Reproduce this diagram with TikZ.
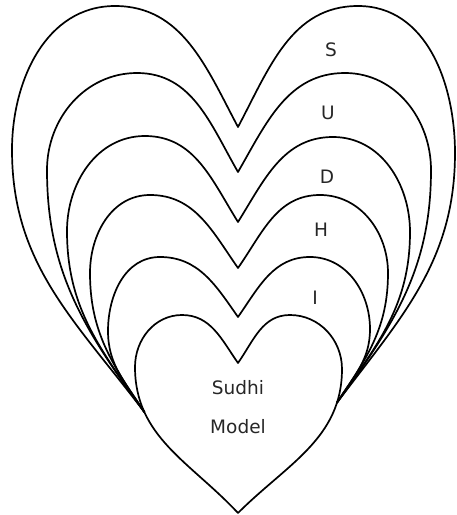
\documentclass[tikz,border=0pt]{standalone}
\usepackage{fontspec}
\setmainfont{DejaVu Sans}
\begin{document}
\begin{tikzpicture}[x=1pt,y=1pt,
  heart/.style={draw=black, line width=1.7pt, line join=round, line cap=round},
  lbl/.style={font=\fontsize{18.5}{20}\selectfont, text=black!85, inner sep=0pt}]
\useasboundingbox (0,0) rectangle (457,515);
% innermost heart (Sudhi Model)
\draw[heart] (238,2) coordinate (tip)
  to[out=133,in=-90] coordinate[pos=0.75] (ML) (135,148)
  to[out=90,in=180] (182,200)
  to[out=0,in=125] (238,152)
  to[out=55,in=180] (290,200)
  to[out=0,in=90] (342,146)
  to[out=-90,in=45] coordinate[pos=0.18] (MR) (tip);
% I
\draw[heart] (ML) to[out=122,in=-90] (108,184) to[out=90,in=180] (160,258)
  to[out=0,in=125] (238,198) to[out=55,in=180] (310,258)
  to[out=0,in=90] (370,186) to[out=-90,in=58] (MR);
% H
\draw[heart] (ML) to[out=124,in=-90] (90,242) to[out=90,in=180] (150,320)
  to[out=0,in=125] (238,247) to[out=55,in=180] (320,320)
  to[out=0,in=90] (388,242) to[out=-90,in=56] (MR);
% D
\draw[heart] (ML) to[out=125,in=-90] (67,284) to[out=90,in=180] (145,379)
  to[out=0,in=122] (238,293) to[out=58,in=180] (333,378)
  to[out=0,in=90] (410,283) to[out=-90,in=55] (MR);
% U
\draw[heart] (ML) to[out=126,in=-90] (47,345) to[out=90,in=180] (137,442)
  to[out=0,in=120] (238,343) to[out=60,in=180] (345,442)
  to[out=0,in=90] (431,345) to[out=-90,in=54] (MR);
% S
\draw[heart] (ML) to[out=127,in=-90] (12,365) to[out=90,in=180] (115,509)
  to[out=0,in=118] (238,388) to[out=62,in=180] (358,509)
  to[out=0,in=90] (455,362) to[out=-90,in=53] (MR);
% labels
\node[lbl] (lS) at (331,465) {S};
\node[lbl] (lU) at (328,402) {U};
\node[lbl] (lD) at (327,338) {D};
\node[lbl] (lH) at (321,285) {H};
\node[lbl] (lI) at (315,217) {I};
\node[lbl] (lSudhi) at (238,127) {Sudhi};
\node[lbl] (lModel) at (238,88) {Model};
\end{tikzpicture}
\end{document}
